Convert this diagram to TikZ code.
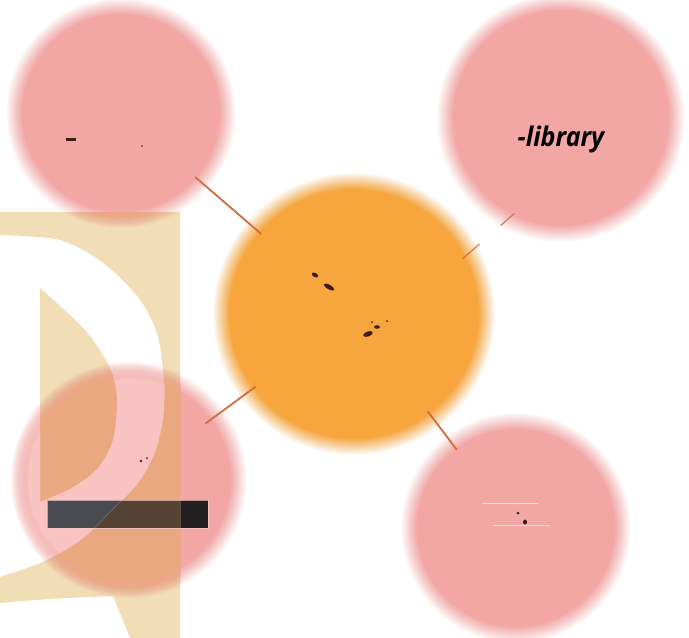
\documentclass[tikz,border=0pt]{standalone}
\usepackage{fontspec}
\setmainfont{Open Sans}
\definecolor{tanc}{RGB}{241,222,182}
\definecolor{pinkc}{RGB}{243,167,165}
\definecolor{peachc}{RGB}{234,168,128}
\definecolor{lpinkc}{RGB}{248,195,192}
\definecolor{orangec}{RGB}{246,166,60}
\definecolor{linec}{RGB}{208,108,62}
\definecolor{bardark}{RGB}{33,31,31}
\definecolor{barbrown}{RGB}{84,67,50}
\definecolor{bargray}{RGB}{74,74,82}
\definecolor{markc}{RGB}{60,28,28}
\newcommand{\mysoftdisc}[4]{%
  \foreach \k in {1,...,18}{\fill[#4,opacity=1/\k] (#1,#2) circle[radius=#3-9+\k];}%
}
\begin{document}
\begin{tikzpicture}[x=1pt,y=-1pt,
  hub/.style={circle, inner sep=0pt, minimum size=#1},
  link/.style={draw=linec, line width=1.8pt},
  speck/.style={fill=markc}]
\useasboundingbox (0,0) rectangle (689,638);
\fill[white] (0,0) rectangle (689,638);
% tan panel with white letter shape
\fill[tanc, even odd rule]
  (-2,212) rectangle (180,640)
  (-2,235) -- plot[smooth] coordinates {(0,235) (60,240) (102,262) (138,297) (157,333) (164,380) (163,418) (155,452) (138,483) (112,510) (83,538) (45,561) (0,577)} -- (-2,577) -- cycle
  (40,288) -- plot[smooth] coordinates {(40,288) (85,330) (110,368) (117,398) (113,440) (98,468) (72,488) (40,502)} -- cycle
  (-2,603) -- plot[smooth] coordinates {(0,603) (50,599) (113,596)} -- (131,640) -- (-2,640) -- cycle;
% soft discs
\mysoftdisc{121}{113}{106}{pinkc}
\mysoftdisc{561}{118}{115}{pinkc}
\mysoftdisc{516}{528}{106}{pinkc}
\mysoftdisc{129}{480}{109}{pinkc}
\mysoftdisc{354}{314}{132}{orangec}
% bar
\fill[bardark] (47,500) rectangle (208,528);
% tinted parts over the tan panel
\begin{scope}[even odd rule]
  \clip
  (-2,212) rectangle (180,640)
  (-2,235) -- plot[smooth] coordinates {(0,235) (60,240) (102,262) (138,297) (157,333) (164,380) (163,418) (155,452) (138,483) (112,510) (83,538) (45,561) (0,577)} -- (-2,577) -- cycle
  (40,288) -- plot[smooth] coordinates {(40,288) (85,330) (110,368) (117,398) (113,440) (98,468) (72,488) (40,502)} -- cycle
  (-2,603) -- plot[smooth] coordinates {(0,603) (50,599) (113,596)} -- (131,640) -- (-2,640) -- cycle;
  \mysoftdisc{129}{480}{109}{peachc}
  \mysoftdisc{121}{113}{106}{peachc}
  \fill[barbrown] (47,500) rectangle (208,528);
\end{scope}
\begin{scope}[even odd rule]
  \clip
  (-2,235) -- plot[smooth] coordinates {(0,235) (60,240) (102,262) (138,297) (157,333) (164,380) (163,418) (155,452) (138,483) (112,510) (83,538) (45,561) (0,577)} -- (-2,577) -- cycle
  (40,288) -- plot[smooth] coordinates {(40,288) (85,330) (110,368) (117,398) (113,440) (98,468) (72,488) (40,502)} -- cycle
  (-2,603) -- plot[smooth] coordinates {(0,603) (50,599) (113,596)} -- (131,640) -- (-2,640) -- cycle;
  \mysoftdisc{129}{480}{109}{lpinkc}
  \fill[bargray] (47,500) rectangle (208,528);
\end{scope}
\draw[pinkc!60!white, opacity=0.7, line width=0.6pt] (47,500) rectangle (208,528);
% hubs for connectors
\node[hub=196pt] (tl) at (121,113) {};
\node[hub=212pt] (tr) at (561,118) {};
\node[hub=196pt] (br) at (516,528) {};
\node[hub=190pt] (bl) at (129,480) {};
\node[hub=244pt] (c) at (354,314) {};
% connectors
\draw[link] (tl) -- (c);
\draw[link] (bl) -- (c);
\draw[link] (c) -- (br);
\draw[link, line width=1.4pt, dash pattern=on 22pt off 28pt, opacity=0.8] (c.27) -- (tr.244);
% label
\node[anchor=base, font=\fontsize{27}{29}\selectfont\bfseries\itshape, text=black, xscale=0.93] (lib) at (561,146) {-library};
% small marks
\fill[speck] (66,138) rectangle (76,140.5);
\fill[speck] (142,146) circle[radius=0.8];
\fill[speck, rotate around={-30:(315,275)}] (315,275) ellipse[x radius=3.5, y radius=2];
\fill[speck, rotate around={-30:(329,287)}] (329,287) ellipse[x radius=6, y radius=2.2];
\fill[speck, rotate around={20:(368,334)}] (368,334) ellipse[x radius=5, y radius=2.5];
\fill[speck] (377,327) ellipse[x radius=3, y radius=1.8];
\fill[speck] (372,322) circle[radius=1];
\fill[speck] (387,321) circle[radius=1];
\fill[speck] (141,461) circle[radius=1.3];
\fill[speck] (147,458) circle[radius=1];
\fill[speck] (518,513) circle[radius=1.5];
\fill[speck] (525,522) ellipse[x radius=2, y radius=2.5];
% faint white rules
\draw[white, opacity=0.6, line width=0.8pt] (483,503) -- (538,503);
\draw[white, opacity=0.6, line width=0.8pt] (493,525) -- (550,525);
\end{tikzpicture}
\end{document}
